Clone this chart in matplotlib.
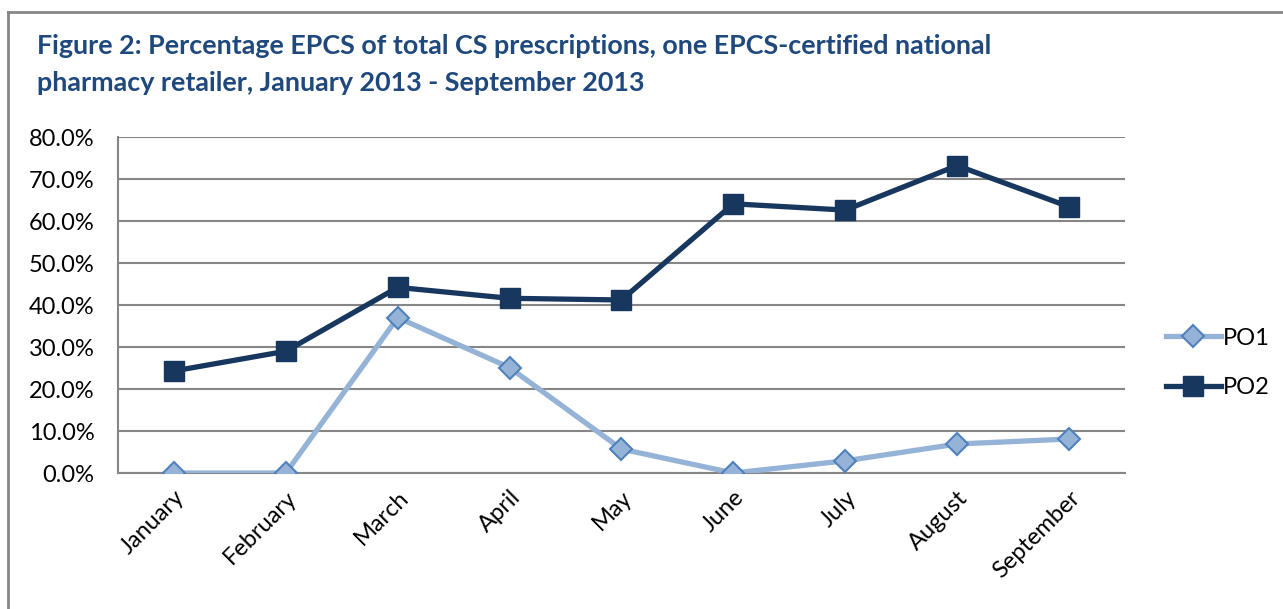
import matplotlib
matplotlib.use("Agg")
import matplotlib.pyplot as plt
from matplotlib.lines import Line2D
from matplotlib.ticker import FuncFormatter

months = ["January", "February", "March", "April", "May", "June", "July", "August", "September"]
po1 = [0.0, 0.0, 37.0, 25.1, 5.7, 0.0, 2.9, 6.9, 8.1]
po2 = [24.3, 29.0, 44.2, 41.6, 41.2, 64.1, 62.6, 73.2, 63.4]
y_ticks = [0, 10, 20, 30, 40, 50, 60, 70, 80]
title_lines = ["Figure 2: Percentage EPCS of total CS prescriptions, one EPCS-certified national",
               "pharmacy retailer, January 2013 - September 2013"]

plt.rcParams['font.family'] = ['Lato', 'DejaVu Sans']

fig = plt.figure(figsize=(12.83, 6.09), dpi=100)
ax = fig.add_axes([0.0920, 0.2233, 0.7848, 0.5517])

x = list(range(len(months)))
ax.plot(x, po1, color='#95B3D7', lw=3.8, marker='D', markersize=11,
        markerfacecolor='#95B3D7', markeredgecolor='#4F81BD', markeredgewidth=1.5,
        label='PO1', zorder=3)
ax.plot(x, po2, color='#17375E', lw=3.8, marker='s', markersize=14,
        markerfacecolor='#17375E', markeredgecolor='#17375E',
        label='PO2', zorder=4)

ax.set_xlim(-0.5, len(months) - 0.5)
ax.set_ylim(0, 80)
ax.set_yticks(y_ticks)
ax.yaxis.set_major_formatter(FuncFormatter(lambda v, p: f"{v:.1f}%"))
ax.set_xticks(x)
ax.set_xticklabels(months, rotation=45, ha='right', rotation_mode='anchor')
ax.tick_params(axis='both', length=0, labelsize=17, colors='black')
ax.tick_params(axis='y', pad=17)
ax.tick_params(axis='x', pad=10)

ax.grid(axis='y', color='#868686', lw=1.5)
ax.set_axisbelow(True)
for s in ['top', 'right']:
    ax.spines[s].set_visible(False)
for s in ['left', 'bottom']:
    ax.spines[s].set_color('#868686')
    ax.spines[s].set_linewidth(1.5)

leg = ax.legend(loc='center left', bbox_to_anchor=(1.02, 0.328), frameon=False,
                fontsize=17, handlelength=2.3, labelspacing=1.2, handletextpad=0.1)

# title, two lines placed by baseline
fig.text(0.0288, 0.911, title_lines[0], fontsize=19.4, fontweight='bold',
         color='#1F497D', va='baseline', ha='left')
fig.text(0.0288, 0.850, title_lines[1], fontsize=19.4, fontweight='bold',
         color='#1F497D', va='baseline', ha='left')

# outer chart border
fig.add_artist(Line2D([0.0066, 0.0066], [0.0, 0.980], color='#868686', lw=2))
fig.add_artist(Line2D([0.0066, 1.0], [0.980, 0.980], color='#868686', lw=2))

fig.savefig("out.png", dpi=100)
